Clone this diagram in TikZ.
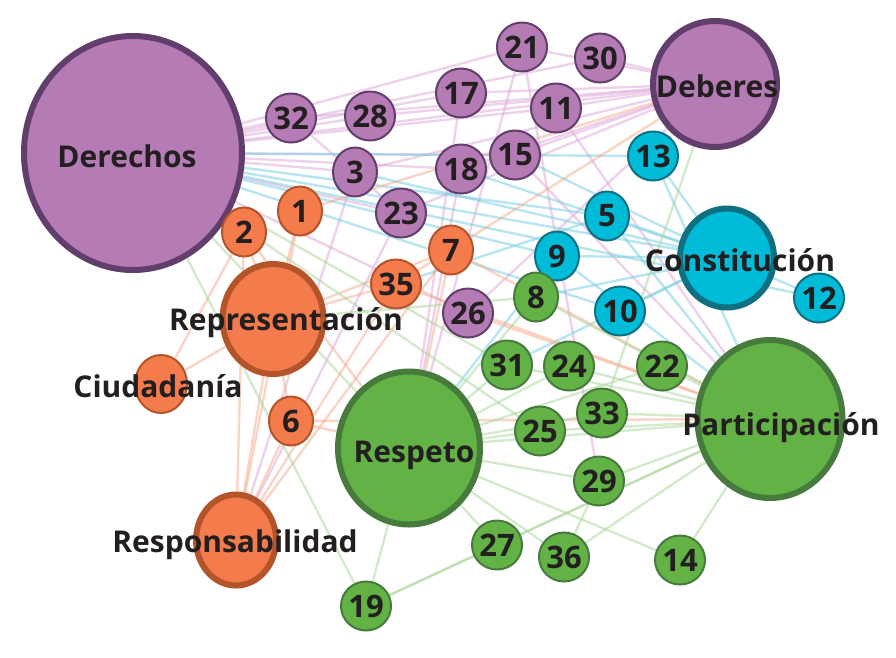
\documentclass[tikz,border=0pt]{standalone}
\usepackage{fontspec}
\setmainfont{Open Sans}
\usetikzlibrary{shapes.geometric}
\definecolor{pfill}{HTML}{B57BB4}
\definecolor{pdark}{HTML}{613E6B}
\definecolor{ofill}{HTML}{F47B4B}
\definecolor{odark}{HTML}{B3542B}
\definecolor{cfill}{HTML}{00BCD8}
\definecolor{cdark}{HTML}{0E7080}
\definecolor{gfill}{HTML}{62B246}
\definecolor{gdark}{HTML}{467B3D}
\definecolor{ink}{HTML}{231F20}
\definecolor{pline}{HTML}{DDA6DA}
\definecolor{cline}{HTML}{7CCFE3}
\definecolor{oline}{HTML}{F6A98C}
\definecolor{gline}{HTML}{A9D69A}
\pgfdeclarelayer{bg}
\pgfsetlayers{bg,main}
\tikzset{
  sm/.style={ellipse, inner sep=0pt, line width=2pt, minimum width=44pt, minimum height=49pt,
    text=ink, font=\fontsize{31}{31}\selectfont\bfseries},
  pn/.style={sm, draw=pdark, fill=pfill},
  on/.style={sm, draw=odark, fill=ofill},
  cn/.style={sm, draw=cdark, fill=cfill},
  gn/.style={sm, draw=gdark, fill=gfill},
  hub/.style={ellipse, inner sep=0pt, line width=6pt},
  lab/.style={inner sep=0pt, text=ink, font=\fontsize{30}{30}\selectfont\bfseries},
  pe/.style={draw=pline, line width=2.4pt, opacity=0.5},
  ce/.style={draw=cline, line width=2.4pt, opacity=0.55},
  oe/.style={draw=oline, line width=2.4pt, opacity=0.5},
  ge/.style={draw=gline, line width=2.4pt, opacity=0.5},
}
\begin{document}
\begin{tikzpicture}[x=1pt,y=-1pt]
\useasboundingbox (0,0) rectangle (896,657);
% hubs
\node[hub, draw=pdark, fill=pfill, minimum width=218pt, minimum height=234pt] (Der) at (133,153) {};
\node[hub, draw=pdark, fill=pfill, minimum width=124pt, minimum height=126pt] (Deb) at (715,84) {};
\node[hub, draw=cdark, fill=cfill, minimum width=94pt, minimum height=99pt] (Con) at (727,258) {};
\node[hub, draw=gdark, fill=gfill, minimum width=145pt, minimum height=158pt] (Par) at (770,419) {};
\node[hub, draw=gdark, fill=gfill, minimum width=142pt, minimum height=153pt] (Res) at (409,448) {};
\node[hub, draw=odark, fill=ofill, minimum width=101pt, minimum height=110pt] (Rep) at (273,319) {};
\node[hub, draw=odark, fill=ofill, minimum width=80pt, minimum height=91pt] (Rsp) at (236,540) {};
\node[hub, draw=odark, fill=ofill, line width=2pt, minimum width=52pt, minimum height=58pt] (Ciu) at (161,384) {};
% purple
\node[pn] (n32) at (291,118) {32};
\node[pn] (n28) at (370,116) {28};
\node[pn] (n3) at (355,172) {3};
\node[pn] (n23) at (401,213) {23};
\node[pn] (n17) at (461,93) {17};
\node[pn] (n21) at (522,47) {21};
\node[pn] (n30) at (600,58) {30};
\node[pn] (n11) at (556,108) {11};
\node[pn] (n15) at (515,155) {15};
\node[pn] (n18) at (461,169) {18};
\node[pn] (n26) at (468,313) {26};
% orange
\node[on] (n1) at (300,211) {1};
\node[on] (n2) at (244,232) {2};
\node[on] (n7) at (451,250) {7};
\node[on] (n35) at (396,284) {35};
\node[on] (n6) at (291,421) {6};
% cyan
\node[cn] (n13) at (653,156) {13};
\node[cn] (n5) at (607,216) {5};
\node[cn] (n9) at (557,256) {9};
\node[cn] (n10) at (620,311) {10};
\node[cn] (n12) at (819,298) {12};
% green
\node[gn] (n8) at (536,297) {8};
\node[gn] (n31) at (507,365) {31};
\node[gn] (n24) at (569,366) {24};
\node[gn] (n22) at (662,366) {22};
\node[gn] (n33) at (602,413) {33};
\node[gn] (n25) at (540,431) {25};
\node[gn] (n29) at (599,481) {29};
\node[gn] (n27) at (497,545) {27};
\node[gn] (n36) at (564,557) {36};
\node[gn] (n14) at (680,560) {14};
\node[gn] (n19) at (366,606) {19};
% labels
\node[lab] (lDer) at (127,156) {Derechos};
\node[lab] (lDeb) at (717,86) {Deberes};
\node[lab] (lCon) at (740,260) {Constitución};
\node[lab] (lPar) at (781,428) {Participación};
\node[lab] (lRes) at (414,455) {Respeto};
\node[lab] (lRep) at (286,323) {Representación};
\node[lab] (lRsp) at (235,545) {Responsabilidad};
\node[lab] (lCiu) at (158,386) {Ciudadanía};
% edges
\begin{pgfonlayer}{bg}
\foreach \b in {n32,n28,n17,n21,n30,n11,n3,n18,n15,n23,n26,Deb}
  \path[pe] (Der) -- (\b);
\foreach \b in {n32,n28,n17,n21,n30,n11,n15,n18,n3,n23,n26}
  \path[pe] (Deb) -- (\b);
\foreach \a/\b in {Rsp/n23,Rsp/n3,Par/n11,Par/n15,Res/n17,Res/n21,Res/n18,n32/n23,n21/n29}
  \path[pe] (\a) -- (\b);
\foreach \b in {n13,n5,n9,n10,Con,n12}
  \path[ce] (Der) -- (\b);
\foreach \b in {n13,n5,n9,n10,n12,n18,n15,n8,n31,n3}
  \path[ce] (Con) -- (\b);
\foreach \a/\b in {Par/n13,Par/n5,Par/n9,Res/n9,n35/n5}
  \path[ce] (\a) -- (\b);
\foreach \b in {n1,n2,n7,n35,n6,Ciu,Rsp}
  \path[oe] (Rep) -- (\b);
\foreach \b in {n1,n2,n6,n7,n35}
  \path[oe] (Rsp) -- (\b);
\foreach \a/\b in {Ciu/n2,Deb/n35,Deb/n1,Par/n6,Par/n35,Par/n7,Par/n26,Res/n6,Res/n7,Res/n2}
  \path[oe] (\a) -- (\b);
\foreach \b in {n8,n31,n24,n25,n33,n29,n27,n36,n22,n19,n14,Par}
  \path[ge] (Res) -- (\b);
\foreach \b in {n8,n31,n24,n22,n33,n25,n29,n27,n36,n14,n19}
  \path[ge] (Par) -- (\b);
\foreach \a/\b in {Der/Res,Der/n31,Der/n25,Der/n19,Deb/n33,n27/n19,n29/n36,Rep/n8}
  \path[ge] (\a) -- (\b);
\end{pgfonlayer}
\end{tikzpicture}
\end{document}
